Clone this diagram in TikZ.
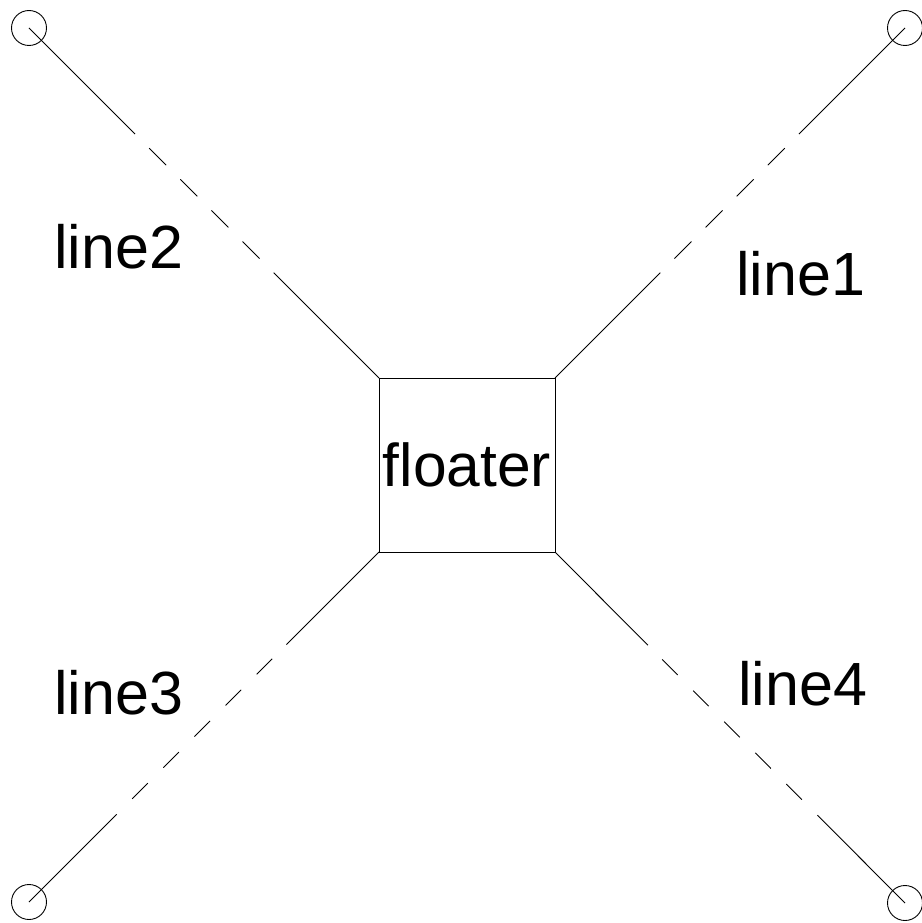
\documentclass[tikz,border=0pt]{standalone}
\usepackage{fontspec}
\setmainfont{Liberation Sans}
\begin{document}
\begin{tikzpicture}[x=1pt,y=1pt,
  endpt/.style={circle,draw,minimum size=35pt,inner sep=0pt,line width=0.9pt},
  lbl/.style={font=\fontsize{61}{72}\selectfont,inner sep=0pt,anchor=base west},
  toppat/.style={dash pattern=on 150pt off 20pt on 24pt off 20pt on 24pt off 20pt on 24pt off 20pt on 24pt off 20pt on 300pt},
  botpat/.style={dash pattern=on 124pt off 22pt on 22pt off 22pt on 22pt off 22pt on 22pt off 22pt on 22pt off 22pt on 22pt off 20pt on 300pt},
  conn/.style={line width=0.9pt}]
\useasboundingbox (0,0) rectangle (921,-923);
\node[endpt] (c1) at (905,-28) {};
\node[endpt] (c2) at (29,-28) {};
\node[endpt] (c3) at (29,-902) {};
\node[endpt] (c4) at (905,-903) {};
\node[draw,minimum width=176pt,minimum height=174pt,inner sep=0pt,outer sep=0pt,line width=0.9pt,font=\fontsize{60.5}{72}\selectfont] (fl) at (467,-465) {floater};
\draw[conn,toppat] (c1.center) -- (fl.north east);
\draw[conn,toppat] (c2.center) -- (fl.north west);
\draw[conn,botpat] (c3.center) -- (fl.south west);
\draw[conn,botpat] (c4.center) -- (fl.south east);
\node[lbl] (l2) at (54,-268) {line2};
\node[lbl] (l1) at (736,-295) {line1};
\node[lbl] (l3) at (54,-714) {line3};
\node[lbl] (l4) at (738,-705) {line4};
\end{tikzpicture}
\end{document}
